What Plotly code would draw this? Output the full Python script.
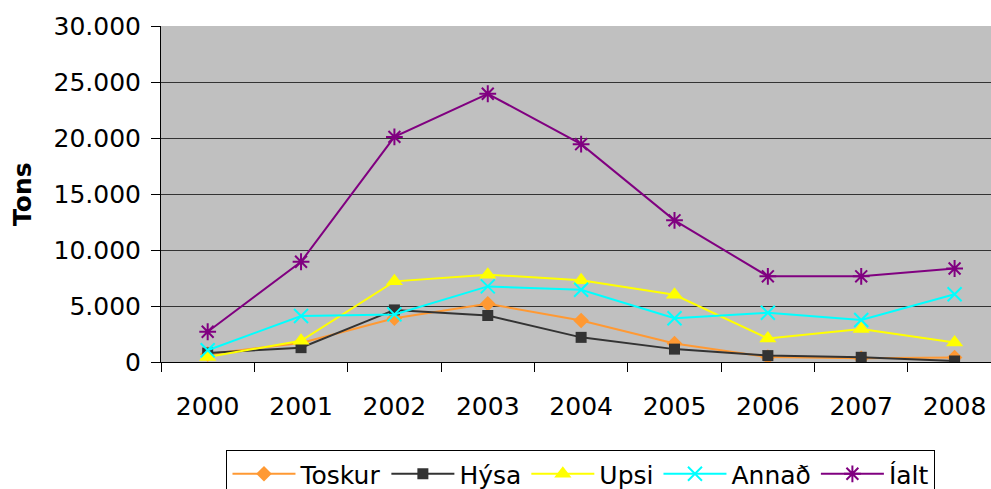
import plotly.graph_objects as go

years = ["2000", "2001", "2002", "2003", "2004", "2005", "2006", "2007", "2008"]
toskur = [700, 1700, 3900, 5200, 3700, 1650, 450, 330, 400]
hysa = [800, 1280, 4650, 4150, 2200, 1150, 570, 420, 90]
upsi = [450, 1900, 7200, 7800, 7300, 6000, 2100, 2950, 1750]
annad = [1050, 4100, 4250, 6750, 6450, 3900, 4400, 3750, 6050]
ialt = [2700, 8950, 20100, 23950, 19450, 12650, 7650, 7650, 8350]
y_ticks = [0, 5000, 10000, 15000, 20000, 25000, 30000]

series = [
    ("Toskur", toskur, "#FF9933", dict(symbol="diamond", size=12, color="#FF9933")),
    ("Hýsa", hysa, "#333333", dict(symbol="square", size=11, color="#333333")),
    ("Upsi", upsi, "#FFFF00", dict(symbol="triangle-up", size=15, color="#FFFF00")),
    ("Annað", annad, "#00FFFF", dict(symbol="x-thin-open", size=14, color="#00FFFF", line=dict(width=2, color="#00FFFF"))),
    ("Íalt", ialt, "#800080", dict(symbol="asterisk-open", size=14, color="#800080", line=dict(width=2, color="#800080"))),
]

fig = go.Figure()
for name, vals, col, mk in series:
    fig.add_trace(go.Scatter(x=years, y=vals, name=name, mode="lines+markers",
                             line=dict(color=col, width=2), marker=mk))

font = "DejaVu Sans, sans-serif"
fig.update_layout(
    width=991, height=489,
    margin=dict(l=161, r=0, t=26, b=127, autoexpand=False),
    paper_bgcolor="white", plot_bgcolor="#C0C0C0",
    separators=",.",
    font=dict(family=font, size=25, color="black"),
    showlegend=True,
    legend=dict(orientation="h", x=0.506, xanchor="center", y=-0.262, yanchor="top",
                bordercolor="black", borderwidth=1, bgcolor="white",
                font=dict(size=25), itemwidth=63, tracegroupgap=0),
    xaxis=dict(type="category", range=[-0.5, 8.39], showgrid=False,
               showline=True, linecolor="black", linewidth=1,
               ticks="outside", tickson="boundaries", ticklen=9, tickcolor="black",
               ticklabelstandoff=22, tickfont=dict(size=25)),
    yaxis=dict(range=[0, 30000], tickvals=y_ticks, tickformat=",",
               showgrid=True, gridcolor="#333333", gridwidth=1,
               showline=True, linecolor="black", linewidth=1, zeroline=False,
               ticks="outside", ticklen=9, tickcolor="black", ticklabelstandoff=5,
               tickfont=dict(size=25)),
    annotations=[dict(text="<b>Tons</b>", textangle=-90, xref="paper", yref="paper",
                      x=(22 - 161) / 830, y=0.5, xanchor="center", yanchor="middle",
                      showarrow=False, font=dict(size=25))],
)
fig.write_html("out.html", config={"displayModeBar": False},
               post_script="document.body.style.margin='0';document.body.style.overflow='hidden';")
